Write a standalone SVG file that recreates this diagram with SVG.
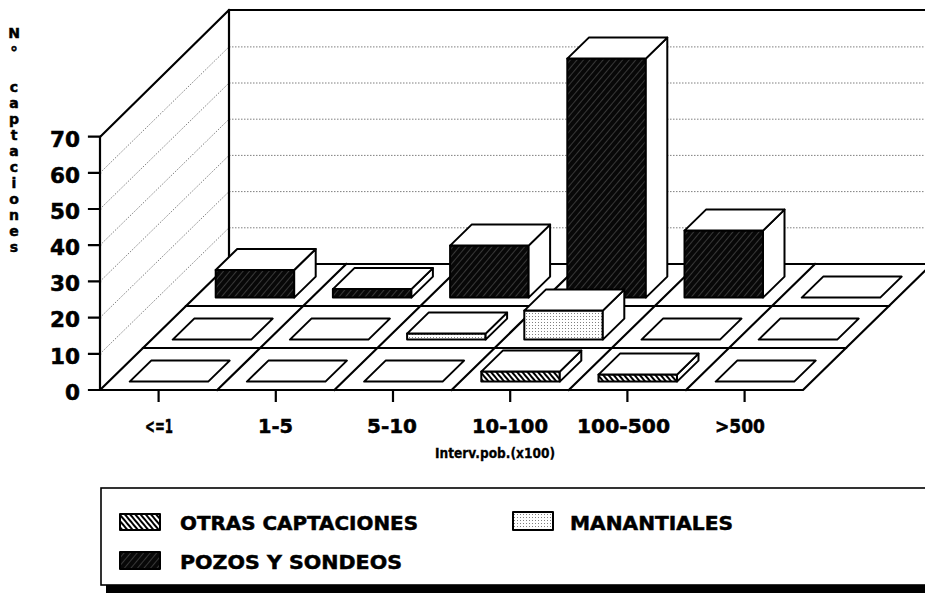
<svg xmlns="http://www.w3.org/2000/svg" width="925" height="595" viewBox="0 0 925 595">
<defs>
<pattern id="pz" width="5" height="5" patternUnits="userSpaceOnUse" patternTransform="rotate(40)"><rect width="5" height="5" fill="#080808"/><rect width="0.8" height="5" fill="#444"/></pattern>
<pattern id="ot" width="4" height="4" patternUnits="userSpaceOnUse" patternTransform="rotate(-40)"><rect width="4" height="4" fill="#fff"/><rect width="2" height="4" fill="#000"/></pattern>
<pattern id="mn" width="3" height="3" patternUnits="userSpaceOnUse"><rect width="3" height="3" fill="#fff"/><rect x="1" y="1" width="1" height="1" fill="#808080"/></pattern>
</defs>
<style>
.w{fill:#fff;stroke:#000;stroke-width:2;stroke-linejoin:round}
.pz{fill:url(#pz);stroke:#000;stroke-width:2;stroke-linejoin:round}
.ot{fill:url(#ot);stroke:#000;stroke-width:2;stroke-linejoin:round}
.mn{fill:url(#mn);stroke:#000;stroke-width:2;stroke-linejoin:round}
.grid{stroke:#707070;stroke-width:0.9;stroke-dasharray:1.5 1.5;fill:none}
.fr{stroke:#000;stroke-width:2.2;fill:none;stroke-linecap:square}
.t{font-family:"DejaVu Sans","Liberation Sans",sans-serif;font-weight:bold;fill:#000;stroke:#000;stroke-width:0.5}
</style>
<rect width="925" height="595" fill="#fff"/>

<g id="walls">
<g class="grid">
<path d="M229,227.8H925M229,191.6H925M229,155.4H925M229,119.2H925M229,83H925M229,46.9H925"/>
<path d="M100,353.8L229,227.8M100,317.6L229,191.6M100,281.4L229,155.4M100,245.2L229,119.2M100,209L229,83M100,172.9L229,46.9"/>
</g>
<path class="fr" d="M229,264V10H925M100,137L229,10M100,137V390"/>
<path class="fr" d="M89,390H100M89,353.8H100M89,317.6H100M89,281.4H100M89,245.2H100M89,209H100M89,172.9H100M89,136.7H100"/>
</g>

<g id="floor">
<polygon points="100,390 803,390 932,264 229,264" fill="#fff" stroke="#000" stroke-width="2.2" stroke-linejoin="round"/>
<path class="fr" d="M143,348H846M186,306H889M217.2,390L346.2,264M334.4,390L463.4,264M451.6,390L580.6,264M568.8,390L697.8,264M686,390L815,264"/>
<path class="fr" d="M158.6,391V401M275.8,391V401M393,391V401M510.2,391V401M627.4,391V401M744.6,391V401"/>
</g>

<g id="bars-pozos">
<g id="bar-p0"><polygon class="pz" points="215.7,297.6 294.2,297.6 294.2,270 215.7,270"/><polygon class="w" points="294.2,297.6 315.7,276.6 315.7,249 294.2,270"/><polygon class="w" points="215.7,270 294.2,270 315.7,249 237.2,249"/></g>
<g id="bar-p1"><polygon class="pz" points="332.9,297.6 411.4,297.6 411.4,289.1 332.9,289.1"/><polygon class="w" points="411.4,297.6 432.9,276.6 432.9,268.1 411.4,289.1"/><polygon class="w" points="332.9,289.1 411.4,289.1 432.9,268.1 354.4,268.1"/></g>
<g id="bar-p2"><polygon class="pz" points="450.1,297.6 528.6,297.6 528.6,245.6 450.1,245.6"/><polygon class="w" points="528.6,297.6 550.1,276.6 550.1,224.6 528.6,245.6"/><polygon class="w" points="450.1,245.6 528.6,245.6 550.1,224.6 471.6,224.6"/></g>
<g id="bar-p3"><polygon class="pz" points="567.3,297.6 645.8,297.6 645.8,58.6 567.3,58.6"/><polygon class="w" points="645.8,297.6 667.3,276.6 667.3,37.6 645.8,58.6"/><polygon class="w" points="567.3,58.6 645.8,58.6 667.3,37.6 588.8,37.6"/></g>
<g id="bar-p4"><polygon class="pz" points="684.5,297.6 763,297.6 763,230.6 684.5,230.6"/><polygon class="w" points="763,297.6 784.5,276.6 784.5,209.6 763,230.6"/><polygon class="w" points="684.5,230.6 763,230.6 784.5,209.6 706,209.6"/></g>
<g id="bar-p5"><polygon class="w" points="801.7,297.6 880.2,297.6 901.7,276.6 823.2,276.6"/></g>
</g>

<g id="bars-manantiales">
<g id="bar-m0"><polygon class="w" points="172.7,339.6 251.2,339.6 272.7,318.6 194.2,318.6"/></g>
<g id="bar-m1"><polygon class="w" points="289.9,339.6 368.4,339.6 389.9,318.6 311.4,318.6"/></g>
<g id="bar-m2"><polygon class="mn" points="407.1,339.6 485.6,339.6 485.6,333.6 407.1,333.6"/><polygon class="w" points="485.6,339.6 507.1,318.6 507.1,312.6 485.6,333.6"/><polygon class="w" points="407.1,333.6 485.6,333.6 507.1,312.6 428.6,312.6"/></g>
<g id="bar-m3"><polygon class="mn" points="524.3,339.6 602.8,339.6 602.8,310.6 524.3,310.6"/><polygon class="w" points="602.8,339.6 624.3,318.6 624.3,289.6 602.8,310.6"/><polygon class="w" points="524.3,310.6 602.8,310.6 624.3,289.6 545.8,289.6"/></g>
<g id="bar-m4"><polygon class="w" points="641.5,339.6 720,339.6 741.5,318.6 663,318.6"/></g>
<g id="bar-m5"><polygon class="w" points="758.7,339.6 837.2,339.6 858.7,318.6 780.2,318.6"/></g>
</g>

<g id="bars-otras">
<g id="bar-o0"><polygon class="w" points="129.7,381.6 208.2,381.6 229.7,360.6 151.2,360.6"/></g>
<g id="bar-o1"><polygon class="w" points="246.9,381.6 325.4,381.6 346.9,360.6 268.4,360.6"/></g>
<g id="bar-o2"><polygon class="w" points="364.1,381.6 442.6,381.6 464.1,360.6 385.6,360.6"/></g>
<g id="bar-o3"><polygon class="ot" points="481.3,381.6 559.8,381.6 559.8,371.6 481.3,371.6"/><polygon class="w" points="559.8,381.6 581.3,360.6 581.3,350.6 559.8,371.6"/><polygon class="w" points="481.3,371.6 559.8,371.6 581.3,350.6 502.8,350.6"/></g>
<g id="bar-o4"><polygon class="ot" points="598.5,381.6 677,381.6 677,374.6 598.5,374.6"/><polygon class="w" points="677,381.6 698.5,360.6 698.5,353.6 677,374.6"/><polygon class="w" points="598.5,374.6 677,374.6 698.5,353.6 620,353.6"/></g>
<g id="bar-o5"><polygon class="w" points="715.7,381.6 794.2,381.6 815.7,360.6 737.2,360.6"/></g>
</g>

<g id="y-labels" class="t" font-size="21" text-anchor="end">
<text x="80" y="146.5" textLength="30" lengthAdjust="spacingAndGlyphs">70</text>
<text x="80" y="182.5" textLength="30" lengthAdjust="spacingAndGlyphs">60</text>
<text x="80" y="218.5" textLength="30" lengthAdjust="spacingAndGlyphs">50</text>
<text x="80" y="255" textLength="30" lengthAdjust="spacingAndGlyphs">40</text>
<text x="80" y="291" textLength="30" lengthAdjust="spacingAndGlyphs">30</text>
<text x="80" y="327" textLength="30" lengthAdjust="spacingAndGlyphs">20</text>
<text x="80" y="363.5" textLength="30" lengthAdjust="spacingAndGlyphs">10</text>
<text x="80" y="399.5" textLength="15" lengthAdjust="spacingAndGlyphs">0</text>
</g>

<g id="y-title" class="t" text-anchor="middle">
<text x="14" font-size="14"><tspan x="14" y="38">N</tspan><tspan x="14" y="58" font-size="15">°</tspan><tspan x="14" y="91.5">c</tspan><tspan x="14" y="107.5">a</tspan><tspan x="14" y="123.5">p</tspan><tspan x="14" y="139.5">t</tspan><tspan x="14" y="155.5">a</tspan><tspan x="14" y="171.5">c</tspan><tspan x="14" y="187.5">i</tspan><tspan x="14" y="203.5">o</tspan><tspan x="14" y="219.5">n</tspan><tspan x="14" y="235.5">e</tspan><tspan x="14" y="251.5">s</tspan></text>
</g>

<g id="x-labels" class="t" font-size="19" text-anchor="middle">
<text x="159" y="433" textLength="28" lengthAdjust="spacingAndGlyphs">&lt;=1</text>
<text x="275.5" y="433" textLength="35" lengthAdjust="spacingAndGlyphs">1-5</text>
<text x="392" y="433" textLength="50" lengthAdjust="spacingAndGlyphs">5-10</text>
<text x="510" y="433" textLength="76" lengthAdjust="spacingAndGlyphs">10-100</text>
<text x="623.5" y="433" textLength="93" lengthAdjust="spacingAndGlyphs">100-500</text>
<text x="740" y="433" textLength="50" lengthAdjust="spacingAndGlyphs">&gt;500</text>
<text x="495" y="458" font-size="13.5" stroke-width="0.3" textLength="120" lengthAdjust="spacingAndGlyphs">Interv.pob.(x100)</text>
</g>

<g id="legend">
<rect x="106" y="585" width="830" height="8" fill="#000"/>
<rect x="101" y="488" width="840" height="97" fill="#fff" stroke="#000" stroke-width="1.6"/>
<g id="leg-otras"><rect x="120" y="514" width="40" height="16" class="ot" stroke-width="1.5"/><text class="t" x="180" y="530" font-size="19" textLength="238" lengthAdjust="spacingAndGlyphs">OTRAS CAPTACIONES</text></g>
<g id="leg-manantiales"><rect x="513" y="512" width="40" height="18" class="mn" stroke-width="1.5"/><text class="t" x="570" y="530" font-size="19" textLength="163" lengthAdjust="spacingAndGlyphs">MANANTIALES</text></g>
<g id="leg-pozos"><rect x="120" y="552" width="40" height="17" class="pz" stroke-width="1.5"/><text class="t" x="180" y="569" font-size="19" textLength="222" lengthAdjust="spacingAndGlyphs">POZOS Y SONDEOS</text></g>
</g>
</svg>
